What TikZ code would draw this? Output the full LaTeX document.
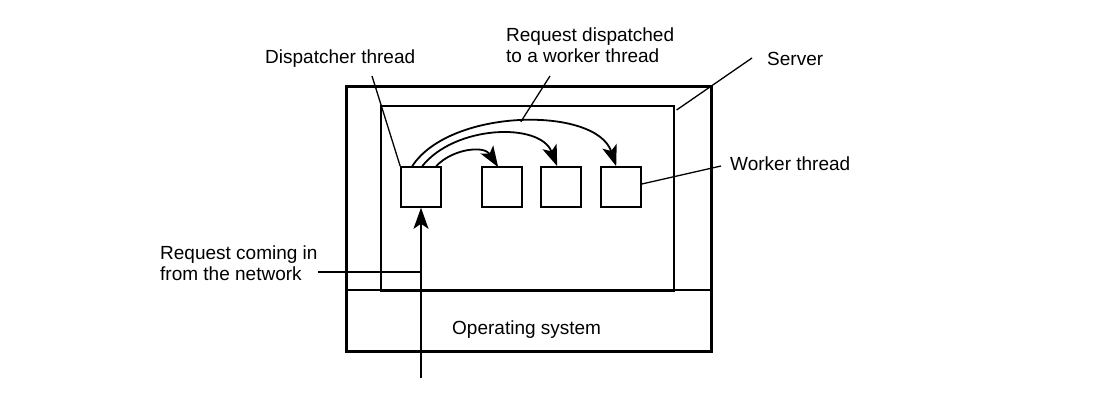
\documentclass[tikz,border=0pt]{standalone}
\usepackage{fontspec}
\setmainfont{Liberation Sans}
\usetikzlibrary{arrows.meta,calc}
\begin{document}
\begin{tikzpicture}[x=1pt,y=-1pt,
  lbl/.style={anchor=north west,inner sep=0pt,align=left,font=\fontsize{19}{21}\selectfont},
  thread/.style={draw,line width=1.6pt,minimum width=40pt,minimum height=40pt,inner sep=0pt},
  lead/.style={line width=1.3pt},
  arr/.style={line width=1.8pt,-{Stealth[length=21pt,width=15pt,inset=5pt]}},
  thin/.style={line width=1.6pt},
  thick/.style={line width=3pt}]
\useasboundingbox (0,0) rectangle (1114,403);
\fill[white] (0,0) rectangle (1114,403);
% outer machine box
\node[draw,thick,minimum width=365pt,minimum height=265pt,inner sep=0pt,anchor=north west] (mach) at (345,85) {};
% server process box
\node[draw,thin,minimum width=293pt,minimum height=185pt,inner sep=0pt,anchor=north west] (srv) at (380,105) {};
\coordinate (osl) at (345,290);
\coordinate (osr) at (710,290);
\draw[line width=1.8pt] (osl) -- (osr);
% threads
\node[thread] (d) at (421,187) {};
\node[thread] (w1) at (502,187) {};
\node[thread] (w2) at (561,187) {};
\node[thread] (w3) at (621,187) {};
% arcs
\draw[arr] ($(d.north west)+(12,0)$) .. controls (450,108) and (596,106) .. ($(w3.north west)+(16,0)$) coordinate[pos=0.5] (peak);
\draw[arr] ($(d.north west)+(22,0)$) .. controls (455,125) and (540,122) .. ($(w2.north west)+(17,0)$);
\draw[arr] ($(d.north west)+(36,0)$) .. controls (452,149) and (484,145) .. ($(w1.north west)+(17,1)$);
% network arrow
\coordinate (net) at (421,378);
\draw[arr] (net) -- (d.south);
% labels
\node[lbl] (ldisp) at (265,50) {Dispatcher thread};
\node[lbl] (lreq) at (506,28) {Request dispatched\\to a worker thread};
\node[lbl] (lsrv) at (767,52) {Server};
\node[lbl] (lwork) at (730,157) {Worker thread};
\node[lbl] (lnet) at (160,246) {Request coming in\\from the network};
\node[lbl] (los) at (452,321) {Operating system};
% leader lines
\coordinate (dl) at (372,76);
\draw[lead] (dl) -- (d.north west);
\coordinate (rl) at (550,76);
\draw[lead] (rl) -- (peak);
\coordinate (sl) at (752,58);
\draw[lead] (sl) -- ($(srv.north east)+(2,5)$);
\coordinate (wl) at (721,166);
\draw[lead] (wl) -- ($(w3.east)+(0,-3)$);
\coordinate (nl) at (318,272);
\coordinate (na) at (421,272);
\draw[lead] (nl) -- (na);
\end{tikzpicture}
\end{document}
